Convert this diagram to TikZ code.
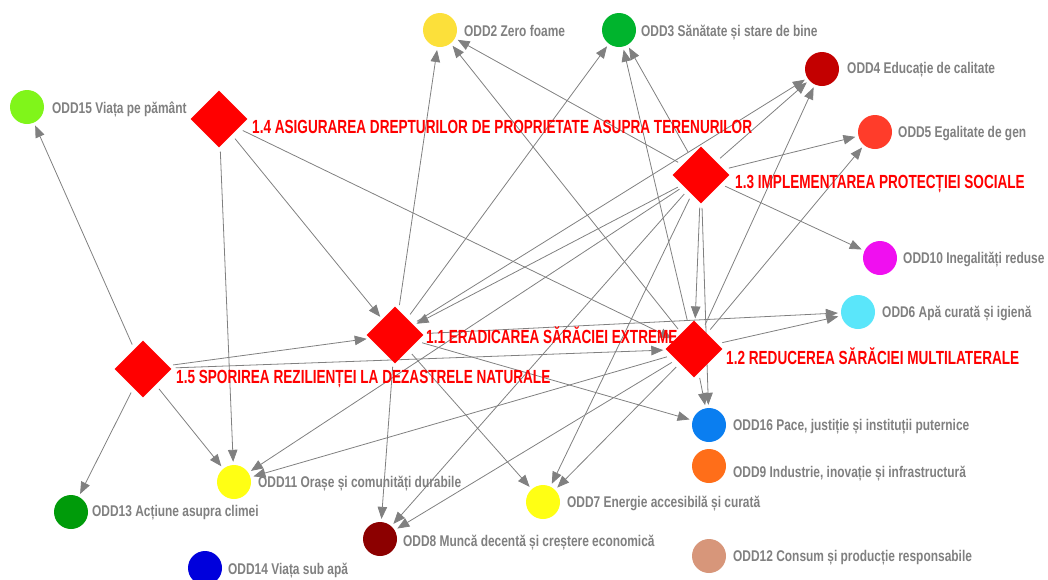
\documentclass[tikz,border=0pt]{standalone}
\usepackage{fontspec}
\setmainfont{Liberation Sans}
\newfontfamily\grayfont{Liberation Sans}[FakeStretch=0.77]
\newfontfamily\redfont{Liberation Sans}[FakeStretch=0.715]
\usetikzlibrary{shapes.geometric,arrows.meta,backgrounds}
\definecolor{labgray}{RGB}{128,128,128}
\definecolor{edgegray}{RGB}{128,128,128}
\definecolor{hubred}{RGB}{255,0,0}
\definecolor{c2}{RGB}{252,224,58}
\definecolor{c3}{RGB}{0,180,45}
\definecolor{c4}{RGB}{195,0,0}
\definecolor{c5}{RGB}{255,60,42}
\definecolor{c6}{RGB}{90,230,250}
\definecolor{c7}{RGB}{255,255,20}
\definecolor{c8}{RGB}{140,0,0}
\definecolor{c9}{RGB}{255,110,25}
\definecolor{c10}{RGB}{240,15,240}
\definecolor{c11}{RGB}{255,255,20}
\definecolor{c12}{RGB}{215,150,122}
\definecolor{c13}{RGB}{0,155,10}
\definecolor{c14}{RGB}{0,0,220}
\definecolor{c15}{RGB}{128,245,26}
\definecolor{c16}{RGB}{10,126,240}
\begin{document}
\begin{tikzpicture}[x=1pt,y=-1pt,
  dia/.style={diamond,fill=hubred,minimum width=57pt,minimum height=57pt,inner sep=0pt},
  odd/.style={circle,minimum size=34pt,inner sep=0pt},
  glab/.style={anchor=base west,inner sep=0pt,text=labgray,font=\grayfont\bfseries\fontsize{15.5}{18}\selectfont},
  rlab/.style={anchor=base west,inner sep=0pt,text=hubred,font=\redfont\bfseries\fontsize{19}{22}\selectfont},
  conn/.style={draw=edgegray,line width=0.8pt,-{Triangle[length=12pt,width=9.5pt]},shorten >=3pt,shorten <=5pt}]
\useasboundingbox (0,0) rectangle (1048,579);
% hubs
\node[dia] (t11) at (395,335) {};
\node[dia] (t12) at (694,349) {};
\node[dia] (t13) at (701,175) {};
\node[dia] (t14) at (219,119) {};
\node[dia] (t15) at (143,369) {};
\node[rlab] (l11) at (426,343) {1.1 ERADICAREA SĂRĂCIEI EXTREME};
\node[rlab] (l12) at (726,364) {1.2 REDUCEREA SĂRĂCIEI MULTILATERALE};
\node[rlab] (l13) at (735,188) {1.3 IMPLEMENTAREA PROTECȚIEI SOCIALE};
\node[rlab] (l14) at (252,133) {1.4 ASIGURAREA DREPTURILOR DE PROPRIETATE ASUPRA TERENURILOR};
\node[rlab] (l15) at (176,383) {1.5 SPORIREA REZILIENȚEI LA DEZASTRELE NATURALE};
% goals
\node[odd,fill=c2] (o2) at (440,30) {};
\node[glab] (g2) at (464,36) {ODD2 Zero foame};
\node[odd,fill=c3] (o3) at (619,30) {};
\node[glab] (g3) at (641,36) {ODD3 Sănătate și stare de bine};
\node[odd,fill=c4] (o4) at (822,69) {};
\node[glab] (g4) at (847,73) {ODD4 Educație de calitate};
\node[odd,fill=c5] (o5) at (875,132) {};
\node[glab] (g5) at (898,137) {ODD5 Egalitate de gen};
\node[odd,fill=c10] (o10) at (880,258) {};
\node[glab] (g10) at (903,263) {ODD10 Inegalități reduse};
\node[odd,fill=c6] (o6) at (858,312) {};
\node[glab] (g6) at (882,317) {ODD6 Apă curată și igienă};
\node[odd,fill=c15] (o15) at (27,107) {};
\node[glab] (g15) at (52,113) {ODD15 Viața pe pământ};
\node[odd,fill=c16] (o16) at (709,425) {};
\node[glab] (g16) at (733,430) {ODD16 Pace, justiție și instituții puternice};
\node[odd,fill=c9] (o9) at (709,466) {};
\node[glab] (g9) at (733,477) {ODD9 Industrie, inovație și infrastructură};
\node[odd,fill=c12] (o12) at (709,556) {};
\node[glab] (g12) at (733,561) {ODD12 Consum și producție responsabile};
\node[odd,fill=c11] (o11) at (234,482) {};
\node[glab] (g11) at (258,487) {ODD11 Orașe și comunități durabile};
\node[odd,fill=c13] (o13) at (71,512) {};
\node[glab] (g13) at (92,516) {ODD13 Acțiune asupra climei};
\node[odd,fill=c14] (o14) at (205,568) {};
\node[glab] (g14) at (228,574) {ODD14 Viața sub apă};
\node[odd,fill=c7] (o7) at (543,502) {};
\node[glab] (g7) at (567,507) {ODD7 Energie accesibilă și curată};
\node[odd,fill=c8] (o8) at (380,539) {};
\node[glab] (g8) at (403,546) {ODD8 Muncă decentă și creștere economică};
% connectors
\begin{scope}[on background layer]
\foreach \t in {o2,o3,o4,o6,o7,o8,o16} \draw[conn] (t11) -- (\t);
\foreach \t in {o2,o3,o4,o5,o6,o7,o8,o11,o16} \draw[conn] (t12) -- (\t);
\foreach \t in {o2,o3,o4,o5,o10,o11,o7,o8,o16,t11,t12} \draw[conn] (t13) -- (\t);
\foreach \t in {o11,t11,t12} \draw[conn] (t14) -- (\t);
\foreach \t in {o15,o13,o11,t11,t12} \draw[conn] (t15) -- (\t);
\end{scope}
\end{tikzpicture}
\end{document}
